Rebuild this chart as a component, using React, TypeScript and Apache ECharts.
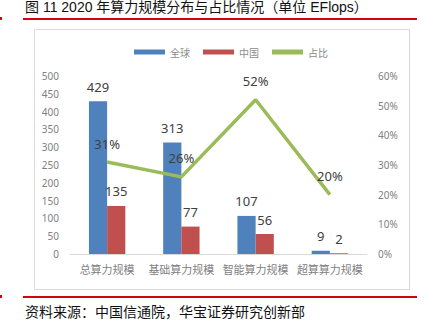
import React, { useEffect, useRef } from "react";
import * as echarts from "echarts";

const categories = ["总算力规模", "基础算力规模", "智能算力规模", "超算算力规模"];
const globalValues = [429, 313, 107, 9];
const chinaValues = [135, 77, 56, 2];
const shareValues = [0.31, 0.26, 0.52, 0.2];
const titleText = "图 11 2020 年算力规模分布与占比情况（单位 EFlops）";
const sourceText = "资料来源：中国信通院，华宝证券研究创新部";

const FONT = '"Noto Sans", "Noto Sans CJK SC", sans-serif';
const RED = "#d7000f";

export default function App() {
  const ref = useRef<HTMLDivElement>(null);
  useEffect(() => {
    if (!ref.current) return;
    const chart = echarts.init(ref.current, undefined, { renderer: "svg" });
    chart.setOption({
      animation: false,
      backgroundColor: "#ffffff",
      textStyle: { fontFamily: FONT },
      graphic: [
        { type: "rect", left: 32, top: 27, shape: { width: 375, height: 260 }, style: { fill: "none", stroke: "#d9d9d9", lineWidth: 1 }, z: -1 },
        { type: "text", left: 25, top: 0, style: { text: titleText, fontSize: 14, fill: "#111", fontFamily: '"Liberation Sans", "Noto Sans CJK SC", sans-serif' } },
        { type: "rect", left: 23, top: 18, shape: { width: 394, height: 2 }, style: { fill: RED } },
        { type: "rect", left: 0, top: 17, shape: { width: 2, height: 3 }, style: { fill: RED } },
        { type: "rect", left: 23, top: 296, shape: { width: 394, height: 2 }, style: { fill: RED } },
        { type: "rect", left: 0, top: 295, shape: { width: 2, height: 3 }, style: { fill: RED } },
        { type: "text", left: 25, top: 304, style: { text: sourceText, fontSize: 14, fill: "#111", fontFamily: '"Noto Sans CJK SC", sans-serif' } },
      ],
      legend: {
        left: 129,
        top: 42,
        itemWidth: 31,
        itemHeight: 5,
        itemGap: 13,
        icon: "rect",
        textStyle: { fontSize: 10, color: "#8c8c8c", fontFamily: '"Noto Sans CJK SC", sans-serif' },
        data: ["全球", "中国", "占比"],
      },
      grid: { left: 70, right: 58, top: 76, bottom: 70 },
      xAxis: {
        type: "category",
        data: categories,
        axisLine: { lineStyle: { color: "#d9d9d9" } },
        axisTick: { show: false },
        axisLabel: { color: "#7f7f7f", fontSize: 11, margin: 9, interval: 0, fontFamily: '"Noto Sans CJK SC", sans-serif' },
      },
      yAxis: [
        {
          type: "value",
          min: 0,
          max: 500,
          interval: 50,
          splitLine: { show: false },
          axisLine: { show: false },
          axisTick: { show: false },
          axisLabel: { color: "#7f7f7f", fontSize: 10, margin: 11 },
        },
        {
          type: "value",
          min: 0,
          max: 0.6,
          interval: 0.1,
          position: "right",
          splitLine: { show: false },
          axisLine: { show: false },
          axisTick: { show: false },
          axisLabel: {
            color: "#7f7f7f",
            fontSize: 10,
            margin: 11,
            formatter: (v: number) => Math.round(v * 100) + "%",
          },
        },
      ],
      series: [
        {
          name: "全球",
          type: "bar",
          data: globalValues,
          barGap: "0%",
          barCategoryGap: "51%",
          itemStyle: { color: "#4f81bd" },
          label: { show: true, position: "top", distance: 8, fontSize: 13, color: "#404040" },
        },
        {
          name: "中国",
          type: "bar",
          data: chinaValues,
          itemStyle: { color: "#c0504d" },
          label: { show: true, position: "top", distance: 8, fontSize: 13, color: "#404040" },
        },
        {
          name: "占比",
          type: "line",
          yAxisIndex: 1,
          data: shareValues,
          symbol: "circle",
          symbolSize: 0,
          lineStyle: { color: "#9bbb59", width: 3.5 },
          itemStyle: { color: "#9bbb59" },
          label: {
            show: true,
            position: "top",
            distance: 12,
            fontSize: 13,
            color: "#404040",
            formatter: (p: any) => Math.round(p.value * 100) + "%",
          },
          z: 5,
        },
      ],
    });
    return () => chart.dispose();
  }, []);
  return (
    <div
      ref={ref}
      style={{ position: "absolute", left: 0, top: 0, width: 425, height: 324 }}
    />
  );
}
